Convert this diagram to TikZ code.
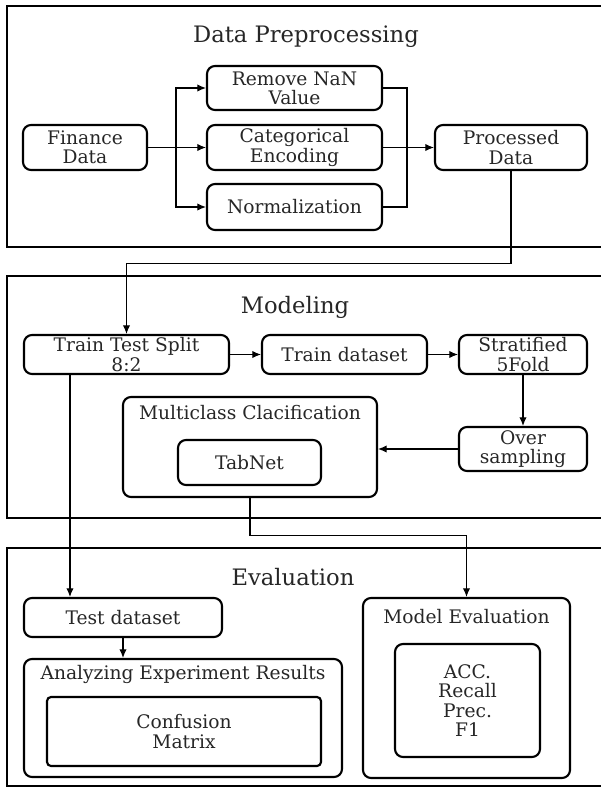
\documentclass[tikz,border=0pt]{standalone}
\usepackage{fontspec}
\setmainfont{DejaVu Serif}
\usepackage{tikz}
\usetikzlibrary{arrows.meta}

\newcommand{\boxfont}{\fontsize{14}{14.4}\selectfont}
\newcommand{\headfont}{\fontsize{17}{20}\selectfont}

\tikzset{
  frame/.style={draw,line width=1.3pt},
  box/.style={draw,rounded corners=6pt,line width=1.6pt,align=center,
              font=\boxfont,inner sep=0pt},
  arr/.style={-{Latex[length=6.5pt,width=5.5pt]},line width=0.8pt},
  wire/.style={line width=0.8pt},
  head/.style={font=\headfont},
}

\begin{document}
\begin{tikzpicture}[x=0.75pt,y=-0.75pt,text=black!85]
    \useasboundingbox (0,0) rectangle (600,787);

    % Data preprocessing
    \draw[frame] (7,6) rectangle (615,247);
    \node[head] (pretitle) at (306,37) {Data Preprocessing};
    \node[box,minimum width=93pt,minimum height=33.75pt] (fin) at (85,147.5) {Finance\\Data};
    \node[box,minimum width=131.25pt,minimum height=33pt] (nan) at (294.5,88) {Remove NaN\\Value};
    \node[box,minimum width=131.25pt,minimum height=33.75pt] (enc) at (294.5,147.5) {Categorical\\Encoding};
    \node[box,minimum width=131.25pt,minimum height=34.5pt] (norm) at (294.5,207) {Normalization};
    \node[box,minimum width=114pt,minimum height=33.75pt] (proc) at (511,147.5) {Processed\\Data};
    \coordinate (br) at (176,147.5);
    \coordinate (mg) at (407,147.5);
    \draw[arr] (fin.east) -- (enc.west);
    \draw[arr] (br) |- (nan.west);
    \draw[arr] (br) |- (norm.west);
    \draw[wire] (nan.east) -| (mg) |- (norm.east);
    \draw[arr] (enc.east) -- (proc.west);

    % Modeling
    \draw[frame] (7,276) rectangle (615,518);
    \node[head] (modtitle) at (295,307) {Modeling};
    \node[box,minimum width=153.75pt,minimum height=29.25pt] (tts) at (126.5,354.5) {Train Test Split\\8:2};
    \node[box,minimum width=123.75pt,minimum height=29.25pt] (trn) at (344.5,354.5) {Train dataset};
    \node[box,minimum width=96pt,minimum height=29.25pt] (strat) at (523,354.5) {Stratified\\5Fold};
    \node[box,minimum width=96pt,minimum height=33pt] (over) at (523,449) {Over\\sampling};
    \node[box,minimum width=190.5pt,minimum height=75pt] (multi) at (250,447) {};
    \node[font=\boxfont] (multit) at ([yshift=-12.75pt]multi.north) {Multiclass Clacification};
    \node[box,minimum width=107.25pt,minimum height=33.75pt] (tab) at (249.5,462.5) {TabNet};
    \draw[arr] (proc.south) -- ++(0,92) -| (tts.north);
    \draw[arr] (tts.east) -- (trn.west);
    \draw[arr] (trn.east) -- (strat.west);
    \draw[arr] (strat.south) -- (over.north);
    \draw[arr] (over.west) -- (multi.east |- over.west);

    % Evaluation
    \draw[frame] (7,548) rectangle (615,786);
    \node[head] (evaltitle) at (293,577) {Evaluation};
    \node[box,minimum width=148.5pt,minimum height=29.25pt] (test) at (123,617.5) {Test dataset};
    \node[box,minimum width=238.5pt,minimum height=88.5pt] (anl) at (183,718) {};
    \node[font=\boxfont] (anlt) at ([yshift=-12.75pt]anl.north) {Analyzing Experiment Results};
    \node[box,rounded corners=3pt,minimum width=205.5pt,minimum height=51.75pt] (conf) at (184,731.5) {Confusion\\Matrix};
    \node[box,minimum width=155.25pt,minimum height=135pt] (meval) at (466.5,688) {};
    \node[font=\boxfont] (mevalt) at ([yshift=-15pt]meval.north) {Model Evaluation};
    \node[box,minimum width=108.75pt,minimum height=84.75pt] (metr) at (467.5,700.5) {ACC.\\Recall\\Prec.\\F1};
    \coordinate (ttsout) at ([xshift=-42.4pt]tts.south);
    \draw[arr] (ttsout) -- (ttsout |- test.north);
    \draw[arr] (test.south) -- (test.south |- anl.north);
    \draw[arr] (multi.south) -- ++(0,37) -| (meval.north);
\end{tikzpicture}
\end{document}
